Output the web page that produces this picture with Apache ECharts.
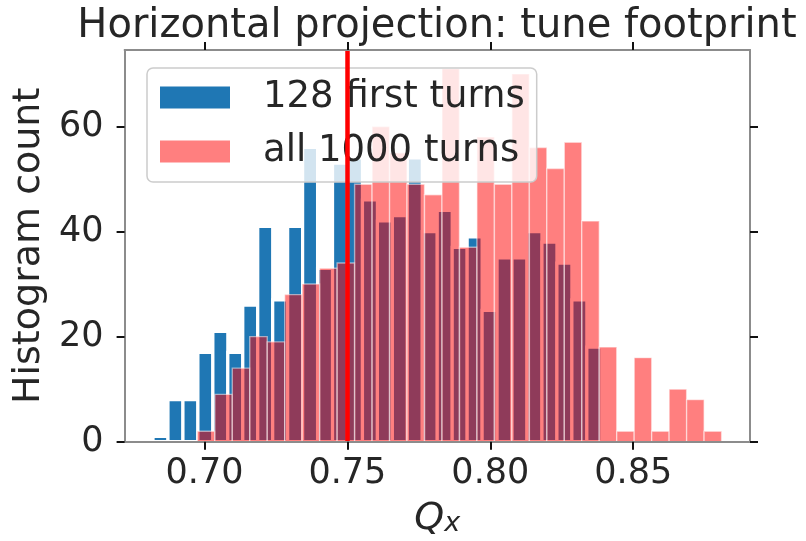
<!DOCTYPE html>
<html>
<head>
<meta charset="utf-8">
<script src="https://cdn.jsdelivr.net/npm/echarts@6/dist/echarts.min.js"></script>
<style>
  html, body { margin: 0; padding: 0; background: #ffffff; }
  #chart { width: 806px; height: 541px; }
</style>
</head>
<body>
<div id="chart"></div>
<script>
// Tune histograms: bin range (first left edge, last right edge) and per-bin counts
const firstTurnsRange = [0.6820, 0.8390];
const firstTurnsCounts = [1, 8, 8, 17, 21, 17, 26, 41, 27, 41, 56, 33, 53, 54, 46,
                          42, 43, 54, 40, 44, 37, 39, 25, 35, 35, 40, 38, 34, 27, 18];
const allTurnsRange = [0.6975, 0.8809];
const allTurnsCounts = [2, 9, 14, 20, 19, 28, 30, 33, 34, 49, 60, 55, 49, 47, 71,
                        37, 58, 49, 70, 56, 52, 57, 42, 18, 2, 16, 2, 10, 8, 2];
const seriesNames = ['128 first turns', 'all 1000 turns'];
const referenceTune = [0.75];
const xTicks = [0.70, 0.75, 0.80, 0.85];
const yTicks = [0, 20, 40, 60];

const FONT = 'DejaVu Sans';
const TEXT = '#262626';
const SPINE = '#8c8c8c';

// Turn a range + counts into [left, right, count] bins
function toBins(range, counts) {
  const n = counts.length;
  const w = (range[1] - range[0]) / n;
  return counts.map((c, i) => [range[0] + i * w, range[0] + (i + 1) * w, c]);
}
const firstBins = toBins(firstTurnsRange, firstTurnsCounts);
const allBins = toBins(allTurnsRange, allTurnsCounts);

// Axis limits with 5% padding around the data
const lo = Math.min(firstTurnsRange[0], allTurnsRange[0]);
const hi = Math.max(firstTurnsRange[1], allTurnsRange[1]);
const pad = 0.05 * (hi - lo);
const xMin = lo - pad, xMax = hi + pad;
const yMax = 1.05 * Math.max(...firstTurnsCounts, ...allTurnsCounts);

function barRenderer(style) {
  return function (params, api) {
    const top = api.coord([api.value(0), api.value(2)]);
    const base = api.coord([api.value(1), 0]);
    return {
      type: 'rect',
      shape: { x: top[0], y: top[1], width: base[0] - top[0], height: base[1] - top[1] },
      style: style
    };
  };
}

const tickStyle = { show: true, length: 8, lineStyle: { color: '#111111', width: 2 } };

const chart = echarts.init(document.getElementById('chart'), null, { renderer: 'canvas' });
chart.setOption({
  animation: false,
  backgroundColor: '#ffffff',
  title: {
    text: 'Horizontal projection: tune footprint',
    left: 432, top: 2, textAlign: 'center',
    textStyle: { fontFamily: FONT, fontSize: 40, fontWeight: 'normal', color: TEXT }
  },
  grid: { left: 124.6, right: 56, top: 50, bottom: 99.3, outerBoundsMode: 'none', containLabel: false },
  legend: {
    orient: 'vertical', left: 147, top: 68,
    data: [
      { name: seriesNames[0], icon: 'rect', itemStyle: { color: '#1f77b4' } },
      { name: seriesNames[1], icon: 'rect', itemStyle: { color: 'rgba(255,0,0,0.5)' } }
    ],
    itemWidth: 70, itemHeight: 22, itemGap: 17,
    padding: [11, 12, 12, 13],
    backgroundColor: 'rgba(255,255,255,0.8)',
    borderColor: '#cccccc', borderWidth: 1.5, borderRadius: 6,
    selectedMode: false,
    textStyle: { fontFamily: FONT, fontSize: 37, color: TEXT, padding: [0, 0, 0, 28] }
  },
  xAxis: [
    {
      type: 'value', min: xMin, max: xMax, position: 'bottom', z: 5,
      name: '{q|Q}{s|x}', nameLocation: 'middle', nameGap: 58,
      nameTextStyle: {
        rich: {
          q: { fontFamily: FONT, fontSize: 38, fontStyle: 'italic', color: TEXT },
          s: { fontFamily: FONT, fontSize: 27, fontStyle: 'italic', color: TEXT, verticalAlign: 'bottom', lineHeight: 20 }
        }
      },
      axisLine: { show: true, onZero: false, lineStyle: { color: SPINE, width: 2 } },
      axisTick: Object.assign({ customValues: xTicks }, tickStyle),
      axisLabel: { customValues: xTicks, formatter: v => v.toFixed(2), fontFamily: FONT, fontSize: 35, color: TEXT, margin: 15 },
      splitLine: { show: false }
    },
    {
      type: 'value', min: xMin, max: xMax, position: 'top', z: 5,
      axisLine: { show: true, onZero: false, lineStyle: { color: SPINE, width: 2 } },
      axisTick: Object.assign({ customValues: xTicks }, tickStyle),
      axisLabel: { show: false },
      splitLine: { show: false }
    }
  ],
  yAxis: [
    {
      type: 'value', min: 0, max: yMax, position: 'left', z: 5,
      name: 'Histogram count', nameLocation: 'middle', nameGap: 75,
      nameTextStyle: { fontFamily: FONT, fontSize: 38, color: TEXT },
      axisLine: { show: true, onZero: false, lineStyle: { color: SPINE, width: 2 } },
      axisTick: Object.assign({ customValues: yTicks }, tickStyle),
      axisLabel: { customValues: yTicks, fontFamily: FONT, fontSize: 35, color: TEXT, margin: 21 },
      splitLine: { show: false }
    },
    {
      type: 'value', min: 0, max: yMax, position: 'right', z: 5,
      axisLine: { show: true, onZero: false, lineStyle: { color: SPINE, width: 2 } },
      axisTick: Object.assign({ customValues: yTicks }, tickStyle),
      axisLabel: { show: false },
      splitLine: { show: false }
    }
  ],
  series: [
    {
      type: 'custom', name: seriesNames[0], z: 2,
      xAxisIndex: 0, yAxisIndex: 0,
      data: firstBins, encode: { x: [0, 1], y: 2 },
      itemStyle: { color: '#1f77b4' },
      renderItem: barRenderer({ fill: '#1f77b4', stroke: '#ffffff', lineWidth: 3.2 })
    },
    {
      type: 'custom', name: seriesNames[1], z: 3,
      xAxisIndex: 0, yAxisIndex: 0,
      data: allBins, encode: { x: [0, 1], y: 2 },
      itemStyle: { color: 'rgba(255,0,0,0.5)' },
      renderItem: barRenderer({ fill: '#ff0000', stroke: '#ffffff', lineWidth: 1.4, opacity: 0.5 })
    },
    {
      type: 'line', name: 'tune', z: 3.5, data: [],
      xAxisIndex: 0, yAxisIndex: 0,
      markLine: {
        silent: true, symbol: 'none', animation: false,
        label: { show: false },
        lineStyle: { color: '#ff0000', width: 4.5, type: 'solid' },
        emphasis: { disabled: true },
        data: referenceTune.map(v => ({ xAxis: v }))
      }
    }
  ]
});
</script>
</body>
</html>
